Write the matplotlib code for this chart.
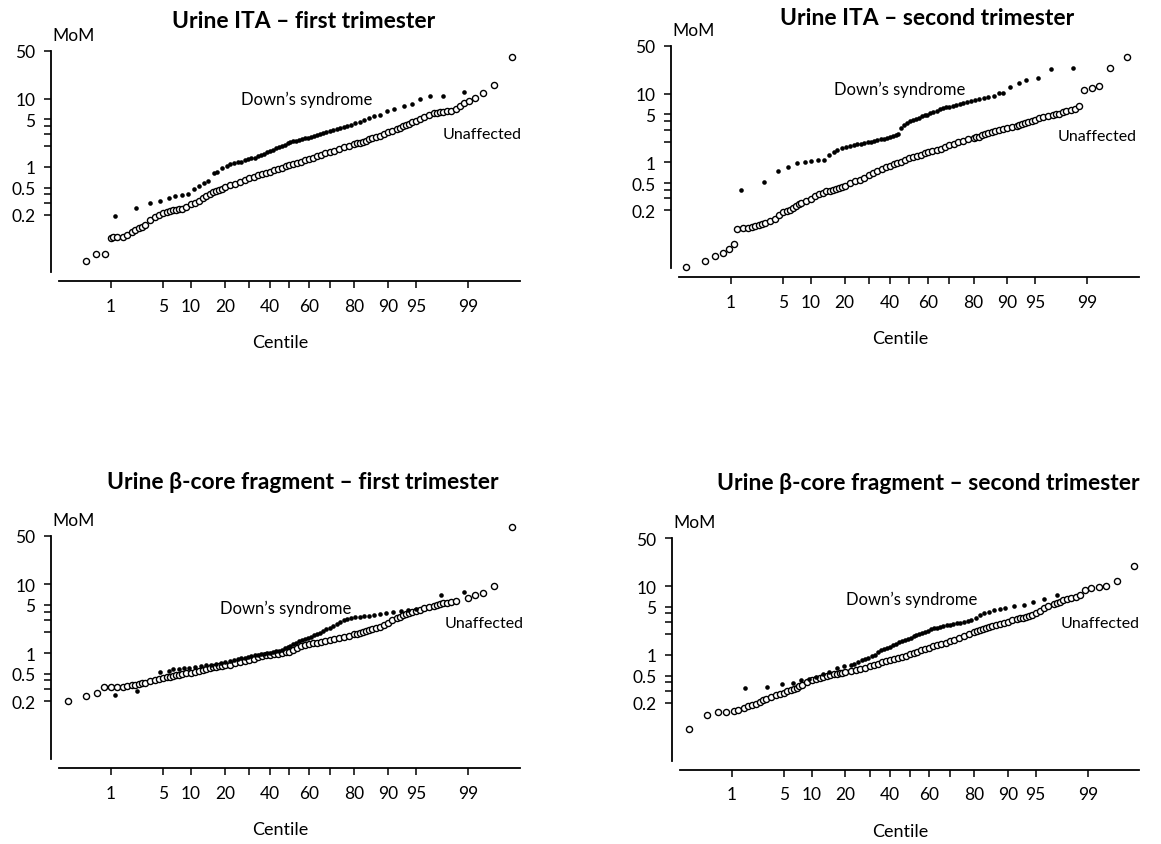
import math
from statistics import NormalDist

import matplotlib
matplotlib.use('Agg')
import matplotlib.pyplot as plt
import numpy as np
from matplotlib.ticker import FixedLocator, NullFormatter, NullLocator

plt.rcParams['font.family'] = ['Lato', 'DejaVu Sans']

# centiles at which the dense part of each unaffected series was read
GRID = [1.25, 1.5, 1.75, 2, 2.25, 2.5, 2.75, 3,
        3.5, 4, 4.5, 5, 5.5, 6, 6.5, 7, 7.5, 8,
        9, 10, 11, 12, 13, 14, 15, 16, 17, 18, 19, 20,
        22, 24, 26, 28, 30, 32, 34, 36, 38, 40,
        42, 44, 46, 48, 50, 52, 54, 56, 58, 60,
        62, 64, 66, 68, 70, 72, 74, 76, 78,
        80, 81, 82, 83, 84, 85, 86, 87, 88, 89, 90, 91, 92,
        92.5, 93, 93.5, 94, 94.5, 95, 95.5, 96, 96.5, 97,
        97.25, 97.5, 97.75, 98, 98.25, 98.5]

# centiles at which the dense part of each Down's series was read
DS_GRID = [22, 23.5, 25, 26.5, 28, 29.5, 31, 32.5, 34, 35.5,
           37, 38.5, 40, 41.5, 43, 44.5, 46, 47.5, 49, 50.5,
           52, 53.5, 55, 56.5, 58, 59.5, 61, 62.5, 64, 65.5,
           67, 68.5, 70, 71.5, 73, 74.5, 76, 77.5, 79, 80.5,
           82, 83.5, 85, 86.5, 88]

tick_centiles = [1, 5, 10, 20, 30, 40, 50, 60, 70, 80, 90, 95, 99]
tick_labels = ['1', '5', '10', '20', '', '40', '', '60', '', '80', '90', '95', '99']
mom_ticks = [0.2, 0.5, 1, 5, 10, 50]
mom_labels = ['0.2', '0.5', '1', '5', '10', '50']
mom_minor = [0.3, 0.4, 2, 3, 4]

titles = ['Urine ITA \u2013 first trimester',
          'Urine ITA \u2013 second trimester',
          'Urine \u03b2-core fragment \u2013 first trimester',
          'Urine \u03b2-core fragment \u2013 second trimester']

# ---- Urine ITA, first trimester
p1_un_lo_c = [0.41, 0.60, 0.82, 1.0, 1.1]
p1_un_lo_m = [0.042, 0.054, 0.054, 0.091, 0.094]
p1_un_m = [0.094, 0.094, 0.102, 0.111, 0.120, 0.127, 0.132, 0.139,
           0.165, 0.184, 0.201, 0.213, 0.218, 0.223, 0.231, 0.236, 0.241, 0.244,
           0.261, 0.282, 0.298, 0.319, 0.349, 0.377, 0.403, 0.427, 0.447, 0.467, 0.483, 0.505,
           0.54, 0.57, 0.60, 0.64, 0.68, 0.72, 0.75, 0.78, 0.81, 0.85,
           0.89, 0.93, 0.97, 1.02, 1.07, 1.11, 1.15, 1.20, 1.25, 1.31,
           1.37, 1.43, 1.50, 1.58, 1.66, 1.74, 1.83, 1.93, 2.04,
           2.16, 2.22, 2.28, 2.35, 2.44, 2.54, 2.64, 2.75, 2.88, 3.03, 3.21, 3.38, 3.62,
           3.78, 3.94, 4.08, 4.24, 4.49, 4.75, 5.02, 5.31, 5.68, 6.07,
           6.21, 6.35, 6.42, 6.50, 6.57, 6.95]
p1_un_hi_c = [98.69, 98.84, 99.04, 99.21, 99.42, 99.61, 99.81]
p1_un_hi_m = [7.69, 8.79, 9.3, 10.3, 12.3, 16.1, 40.8]
p1_ds_lo_c = [1.15, 2.30, 3.43, 4.64, 5.82, 6.90, 8.06, 9.28, 10.6, 11.9, 13.2, 14.6,
              16.2, 17.4, 19.1, 20.9]
p1_ds_lo_m = [0.190, 0.249, 0.298, 0.319, 0.353, 0.378, 0.395, 0.408, 0.478, 0.522, 0.590, 0.625,
              0.826, 0.855, 0.957, 1.05]
p1_ds_m = [1.11, 1.13, 1.17, 1.20, 1.27, 1.29, 1.34, 1.37, 1.45, 1.50,
           1.55, 1.64, 1.69, 1.79, 1.87, 1.96, 2.05, 2.12, 2.24, 2.29,
           2.37, 2.42, 2.51, 2.56, 2.62, 2.68, 2.74, 2.84, 2.90, 3.00,
           3.14, 3.24, 3.35, 3.47, 3.59, 3.75, 3.84, 3.92, 4.10, 4.34,
           4.59, 4.80, 5.13, 5.49, 5.81]
p1_ds_hi_c = [89.9, 91.3, 93.2, 94.5, 95.5, 96.6, 97.7, 98.85]
p1_ds_hi_m = [6.64, 7.18, 7.86, 8.5, 9.84, 10.8, 11.0, 12.7]

# ---- Urine ITA, second trimester
p2_un_lo_c = [0.18, 0.38, 0.56, 0.76, 0.93, 1.11]
p2_un_lo_m = [0.030, 0.0368, 0.0435, 0.0487, 0.0557, 0.0645]
p2_un_m = [0.107, 0.109, 0.112, 0.116, 0.118, 0.122, 0.125, 0.130,
           0.140, 0.150, 0.171, 0.188, 0.196, 0.205, 0.219, 0.235, 0.246, 0.257,
           0.275, 0.297, 0.325, 0.348, 0.364, 0.377, 0.389, 0.398, 0.412, 0.421, 0.431, 0.446,
           0.499, 0.533, 0.557, 0.590, 0.660, 0.698, 0.747, 0.808, 0.855, 0.894,
           0.946, 0.989, 1.03, 1.09, 1.14, 1.18, 1.24, 1.29, 1.35, 1.42,
           1.47, 1.51, 1.58, 1.68, 1.77, 1.85, 1.96, 2.07, 2.19,
           2.30, 2.32, 2.37, 2.48, 2.57, 2.69, 2.78, 2.91, 3.01, 3.11, 3.18, 3.29, 3.40,
           3.52, 3.64, 3.76, 3.89, 3.98, 4.17, 4.36, 4.56, 4.71, 4.88,
           4.99, 5.15, 5.33, 5.51, 5.70, 5.97]
p2_un_hi_c = [98.68, 98.89, 99.15, 99.34, 99.57, 99.78]
p2_un_hi_m = [6.6, 11.3, 12.0, 12.9, 23.5, 34.4]
p2_ds_lo_c = [1.42, 2.89, 4.33, 5.77, 7.23, 8.66, 10.1, 11.7, 13.3, 14.8, 16.3, 17.5, 19.0, 20.5]
p2_ds_lo_m = [0.394, 0.510, 0.738, 0.855, 0.967, 1.03, 1.06, 1.07, 1.09, 1.29, 1.40, 1.53, 1.62, 1.66]
p2_ds_m = [1.73, 1.77, 1.83, 1.88, 1.92, 1.96, 2.01, 2.05, 2.12, 2.17,
           2.22, 2.27, 2.35, 2.43, 2.51, 2.60, 3.18, 3.56, 3.76, 3.98,
           4.12, 4.31, 4.45, 4.66, 4.82, 4.93, 5.16, 5.39, 5.64, 5.90,
           6.10, 6.31, 6.45, 6.60, 6.83, 6.98, 7.22, 7.47, 7.73, 8.08,
           8.45, 8.65, 9.04, 9.35, 10.1]
p2_ds_hi_c = [89.1, 90.6, 92.4, 93.7, 95.4, 96.8, 98.4]
p2_ds_hi_m = [10.3, 12.5, 14.5, 15.7, 16.8, 23.0, 23.5]

# ---- Urine beta-core fragment, first trimester
p3_un_lo_c = [0.20, 0.41, 0.62, 0.80, 1.0]
p3_un_lo_m = [0.199, 0.236, 0.265, 0.316, 0.322]
p3_un_m = [0.321, 0.321, 0.333, 0.340, 0.348, 0.356, 0.363, 0.372,
           0.393, 0.411, 0.420, 0.430, 0.444, 0.454, 0.464, 0.475, 0.485, 0.491,
           0.507, 0.519, 0.536, 0.548, 0.561, 0.580, 0.607, 0.620, 0.634, 0.648, 0.655, 0.662,
           0.677, 0.715, 0.745, 0.770, 0.795, 0.830, 0.870, 0.900, 0.925, 0.940,
           0.955, 0.965, 0.985, 1.02, 1.05, 1.12, 1.19, 1.25, 1.30, 1.35,
           1.39, 1.42, 1.46, 1.50, 1.54, 1.58, 1.63, 1.70, 1.78,
           1.87, 1.91, 1.95, 2.01, 2.08, 2.13, 2.20, 2.28, 2.41, 2.57, 2.75, 2.97, 3.22,
           3.36, 3.51, 3.63, 3.76, 3.88, 4.06, 4.25, 4.49, 4.69, 4.85,
           4.96, 5.13, 5.25, 5.36, 5.48, 5.61]
p3_un_hi_c = [99.0, 99.21, 99.42, 99.61, 99.81]
p3_un_hi_m = [6.27, 7.0, 7.41, 9.25, 66.3]
p3_ds_lo_c = [1.16, 2.33, 4.64, 5.82, 6.5, 7.5, 8.5, 9.5, 11, 12.5, 14, 15.5, 17, 18.5, 20]
p3_ds_lo_m = [0.243, 0.285, 0.525, 0.555, 0.580, 0.593, 0.600, 0.607, 0.627, 0.655, 0.670,
              0.677, 0.693, 0.708, 0.733]
p3_ds_m = [0.757, 0.783, 0.819, 0.837, 0.856, 0.885, 0.905, 0.925, 0.946, 0.967,
           0.978, 1.00, 1.01, 1.03, 1.06, 1.08, 1.12, 1.17, 1.22, 1.28,
           1.34, 1.42, 1.48, 1.54, 1.59, 1.65, 1.72, 1.80, 1.88, 1.97,
           2.08, 2.20, 2.33, 2.48, 2.65, 2.85, 3.00, 3.10, 3.20, 3.28,
           3.36, 3.42, 3.48, 3.55, 3.65]
p3_ds_hi_c = [89.5, 91.2, 92.6, 93.9, 95.0, 97.6, 98.84]
p3_ds_hi_m = [3.76, 3.93, 4.02, 4.20, 4.39, 7.0, 7.66]

# ---- Urine beta-core fragment, second trimester
p4_un_lo_c = [0.20, 0.41, 0.61, 0.82, 1.07]
p4_un_lo_m = [0.0845, 0.132, 0.148, 0.148, 0.153]
p4_un_m = [0.157, 0.171, 0.181, 0.188, 0.196, 0.208, 0.222, 0.232,
           0.248, 0.260, 0.269, 0.278, 0.297, 0.311, 0.322, 0.333, 0.348, 0.368,
           0.403, 0.426, 0.441, 0.456, 0.477, 0.493, 0.510, 0.521, 0.533, 0.545, 0.551, 0.557,
           0.577, 0.597, 0.617, 0.645, 0.683, 0.714, 0.747, 0.791, 0.817, 0.845,
           0.874, 0.904, 0.935, 0.978, 1.02, 1.07, 1.12, 1.17, 1.22, 1.28,
           1.34, 1.38, 1.45, 1.50, 1.57, 1.66, 1.77, 1.90, 2.01,
           2.15, 2.22, 2.27, 2.35, 2.43, 2.51, 2.60, 2.69, 2.81, 2.94, 3.04, 3.18, 3.33,
           3.40, 3.48, 3.56, 3.64, 3.76, 4.00, 4.35, 4.80, 5.20, 5.50,
           5.70, 5.95, 6.20, 6.45, 6.70, 6.95]
p4_un_hi_c = [98.71, 98.89, 99.12, 99.33, 99.49, 99.66, 99.83]
p4_un_hi_m = [7.55, 8.74, 9.45, 9.78, 10.0, 11.8, 19.6]
p4_ds_lo_c = [1.57, 3.12, 4.74, 6.35, 7.86, 9.53, 11.1, 12.8, 14.7, 17.2, 19.7]
p4_ds_lo_m = [0.325, 0.336, 0.376, 0.389, 0.431, 0.446, 0.471, 0.527, 0.557, 0.638, 0.683]
p4_ds_m = [0.714, 0.747, 0.791, 0.836, 0.864, 0.904, 0.956, 1.01, 1.09, 1.18,
           1.22, 1.27, 1.31, 1.38, 1.46, 1.53, 1.58, 1.63, 1.72, 1.78,
           1.88, 1.96, 2.03, 2.10, 2.17, 2.26, 2.36, 2.43, 2.50, 2.57,
           2.64, 2.70, 2.76, 2.82, 2.88, 2.94, 3.01, 3.07, 3.22, 3.48,
           3.76, 4.03, 4.26, 4.50, 4.71]
p4_ds_hi_c = [89.3, 91.3, 93.2, 94.7, 96.0, 97.3]
p4_ds_hi_m = [4.88, 5.10, 5.39, 5.90, 6.60, 7.38]

panels = [
    (p1_un_lo_c + GRID + p1_un_hi_c, p1_un_lo_m + p1_un_m + p1_un_hi_m,
     p1_ds_lo_c + DS_GRID + p1_ds_hi_c, p1_ds_lo_m + p1_ds_m + p1_ds_hi_m),
    (p2_un_lo_c + GRID + p2_un_hi_c, p2_un_lo_m + p2_un_m + p2_un_hi_m,
     p2_ds_lo_c + DS_GRID + p2_ds_hi_c, p2_ds_lo_m + p2_ds_m + p2_ds_hi_m),
    (p3_un_lo_c + GRID + p3_un_hi_c, p3_un_lo_m + p3_un_m + p3_un_hi_m,
     p3_ds_lo_c + DS_GRID + p3_ds_hi_c, p3_ds_lo_m + p3_ds_m + p3_ds_hi_m),
    (p4_un_lo_c + GRID + p4_un_hi_c, p4_un_lo_m + p4_un_m + p4_un_hi_m,
     p4_ds_lo_c + DS_GRID + p4_ds_hi_c, p4_ds_lo_m + p4_ds_m + p4_ds_hi_m),
]

# layout: axes rect, title position, label positions (axes fraction)
layout = [
    dict(rect=[0.0508, 0.677, 0.397, 0.2615], tx=0.53, ty=1.136, ds=(0.394, 0.783), un=(0.832, 0.624)),
    dict(rect=[0.585, 0.6817, 0.396, 0.263], tx=0.54, ty=1.127, ds=(0.337, 0.805), un=(0.823, 0.595)),
    dict(rect=[0.0508, 0.1006, 0.397, 0.264], tx=0.53, ty=1.246, ds=(0.349, 0.679), un=(0.836, 0.609)),
    dict(rect=[0.5857, 0.0986, 0.3957, 0.2635], tx=0.54, ty=1.25, ds=(0.362, 0.729), un=(0.829, 0.618)),
]

# normal probability scale for the centile axis
_nd = NormalDist()
_inv = np.vectorize(_nd.inv_cdf, otypes=[float])
_erf = np.vectorize(math.erf, otypes=[float])


def centile_to_z(p):
    q = np.asarray(p, dtype=float) / 100.0
    if q.size == 0:
        return q
    bad = ~np.isfinite(q)
    q = np.clip(np.where(bad, 0.5, q), 1e-9, 1 - 1e-9)
    return np.where(bad, np.nan, _inv(q))


def z_to_centile(z):
    z = np.asarray(z, dtype=float)
    if z.size == 0:
        return z
    return 50.0 * (1.0 + _erf(z / math.sqrt(2.0)))


fig = plt.figure(figsize=(11.61, 8.45), dpi=100)

for (uc, um, dc, dm), lay, title in zip(panels, layout, titles):
    ax = fig.add_axes(lay['rect'])
    ax.set_xscale('function', functions=(centile_to_z, z_to_centile))
    ax.set_yscale('log')

    ax.plot(uc, um, ls='none', marker='o', ms=4.4, mfc='white', mec='black',
            mew=1.0, clip_on=False, zorder=3)
    ax.plot(dc, dm, ls='none', marker='o', ms=3.3, mfc='black', mec='black',
            mew=0, clip_on=False, zorder=4)

    ax.set_xlim(float(z_to_centile(-3.0)), float(z_to_centile(3.0)))
    ax.set_ylim(0.029, 50)

    ax.set_xticks(tick_centiles)
    ax.set_xticklabels(tick_labels)
    ax.xaxis.set_minor_locator(NullLocator())
    ax.set_yticks(mom_ticks)
    ax.set_yticklabels(mom_labels)
    ax.yaxis.set_minor_locator(FixedLocator(mom_minor))
    ax.yaxis.set_minor_formatter(NullFormatter())

    ax.tick_params(which='both', direction='out', length=5, width=1.1,
                   labelsize=12.5, color='black')
    ax.tick_params(axis='x', pad=7)
    ax.tick_params(axis='y', pad=6)

    for s in ('top', 'right'):
        ax.spines[s].set_visible(False)
    ax.spines['left'].set_position(('outward', 6))
    ax.spines['bottom'].set_position(('outward', 6.5))
    for s in ('left', 'bottom'):
        ax.spines[s].set_linewidth(1.3)

    ax.text(lay['tx'], lay['ty'], title, transform=ax.transAxes, ha='center', va='center',
            fontsize=16.5, fontweight='bold')
    ax.text(-0.015, 1.07, 'MoM', transform=ax.transAxes, ha='left', va='center', fontsize=12.5)
    ax.text(0.48, -0.315, 'Centile', transform=ax.transAxes, ha='center', va='center',
            fontsize=13)
    ax.text(lay['ds'][0], lay['ds'][1], 'Down\u2019s syndrome', transform=ax.transAxes,
            ha='left', va='center', fontsize=12)
    ax.text(lay['un'][0], lay['un'][1], 'Unaffected', transform=ax.transAxes,
            ha='left', va='center', fontsize=11.5)

fig.savefig('out.png', dpi=100, facecolor='white')
